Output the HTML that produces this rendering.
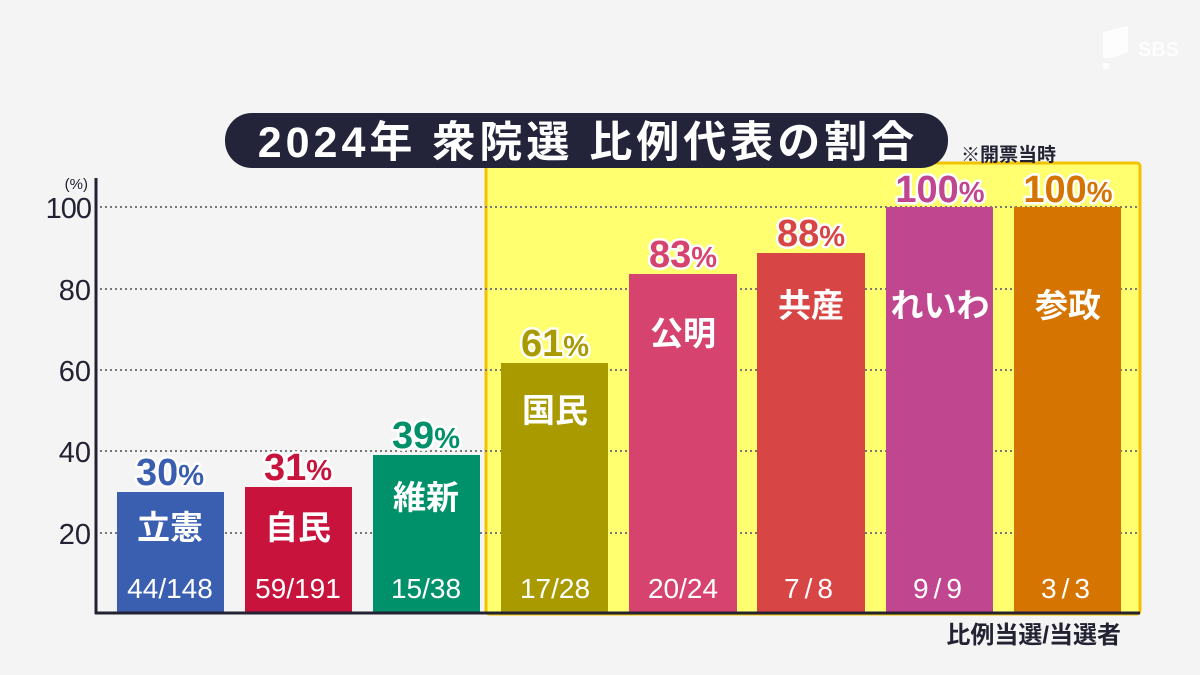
<!DOCTYPE html>
<html><head><meta charset="utf-8"><style>
html,body{margin:0;padding:0;background:#f4f4f4;}
svg{display:block;}
text{font-family:"Liberation Sans","Noto Sans CJK JP",sans-serif;}
</style></head><body>
<svg width="1200" height="675" viewBox="0 0 1200 675" xmlns="http://www.w3.org/2000/svg">
<rect width="1200" height="675" fill="#f4f4f4"/>
<g fill="#ffffff" opacity="0.9">
<path d="M1103 32 L1128 26 L1128 52 L1112 58 L1103 58 Z"/>
<rect x="1103" y="63" width="6" height="6"/>
<text x="1138" y="56" font-size="20" font-weight="bold">SBS</text>
</g>
<rect x="486" y="163" width="654" height="451" rx="3" fill="#ffff70" stroke="#f2c200" stroke-width="3"/>
<g stroke="#777" stroke-width="2" stroke-dasharray="2,3">
<line x1="100" y1="207" x2="1140" y2="207"/>
<line x1="100" y1="289" x2="1140" y2="289"/>
<line x1="100" y1="370" x2="1140" y2="370"/>
<line x1="100" y1="451" x2="1140" y2="451"/>
<line x1="100" y1="533" x2="1140" y2="533"/>
</g>
<g fill="#222233" font-size="29" text-anchor="end">
<text x="91" y="218" letter-spacing="-1">100</text>
<text x="91" y="300">80</text>
<text x="91" y="381">60</text>
<text x="91" y="462">40</text>
<text x="91" y="544">20</text>
<text x="88" y="189" font-size="15">(%)</text>
</g>
<rect x="117" y="492" width="107" height="121" fill="#3a5eb0"/>
<rect x="245" y="487" width="107" height="126" fill="#c8133c"/>
<rect x="373" y="455" width="107" height="158" fill="#00906a"/>
<rect x="501" y="363" width="107" height="250" fill="#a99a00"/>
<rect x="629" y="274" width="108" height="339" fill="#d6436e"/>
<rect x="757" y="253" width="108" height="360" fill="#d84545"/>
<rect x="886" y="207" width="107" height="406" fill="#c0478f"/>
<rect x="1014" y="207" width="107" height="406" fill="#d57400"/>
<line x1="96" y1="178" x2="96" y2="614" stroke="#222233" stroke-width="3"/>
<line x1="95" y1="613" x2="1140" y2="613" stroke="#222233" stroke-width="3"/>
<g font-weight="bold" text-anchor="middle" stroke="#ffffff" stroke-width="5" paint-order="stroke" stroke-linejoin="round">
<text x="170" y="485" font-size="38" fill="#3a5eb0">30<tspan font-size="29">%</tspan></text>
<text x="298" y="480" font-size="38" fill="#c8133c">31<tspan font-size="29">%</tspan></text>
<text x="426" y="448" font-size="38" fill="#00906a">39<tspan font-size="29">%</tspan></text>
<text x="555" y="356" font-size="38" fill="#a99a00">61<tspan font-size="29">%</tspan></text>
<text x="683" y="267" font-size="38" fill="#d6436e">83<tspan font-size="29">%</tspan></text>
<text x="811" y="246" font-size="38" fill="#d84545">88<tspan font-size="29">%</tspan></text>
<text x="940" y="202" font-size="38" fill="#c0478f">100<tspan font-size="29">%</tspan></text>
<text x="1068" y="202" font-size="38" fill="#d57400">100<tspan font-size="29">%</tspan></text>
</g>
<g fill="#ffffff" font-weight="bold" font-size="33" text-anchor="middle">
<text x="170" y="539">立憲</text>
<text x="298" y="539">自民</text>
<text x="426" y="509">維新</text>
<text x="555" y="422">国民</text>
<text x="683" y="345">公明</text>
<text x="811" y="317">共産</text>
<text x="940" y="317">れいわ</text>
<text x="1068" y="317">参政</text>
</g>
<g fill="#ffffff" font-size="28" text-anchor="middle">
<text x="170" y="598">44/148</text>
<text x="298" y="598">59/191</text>
<text x="426" y="598">15/38</text>
<text x="555" y="598">17/28</text>
<text x="683" y="598">20/24</text>
<text x="811" y="598" letter-spacing="5">7/8</text>
<text x="940" y="598" letter-spacing="5">9/9</text>
<text x="1068" y="598" letter-spacing="5">3/3</text>
</g>
<text x="1121" y="643" font-size="24" font-weight="bold" fill="#222233" text-anchor="end">比例当選/当選者</text>
<rect x="225" y="113" width="723" height="55" rx="27" fill="#23233a"/>
<text x="588" y="157" font-size="43" font-weight="bold" fill="#ffffff" text-anchor="middle" letter-spacing="4">2024年  衆院選  比例代表の割合</text>
<text x="961" y="161" font-size="19" font-weight="bold" fill="#222233">※開票当時</text>
</svg>
</body></html>
